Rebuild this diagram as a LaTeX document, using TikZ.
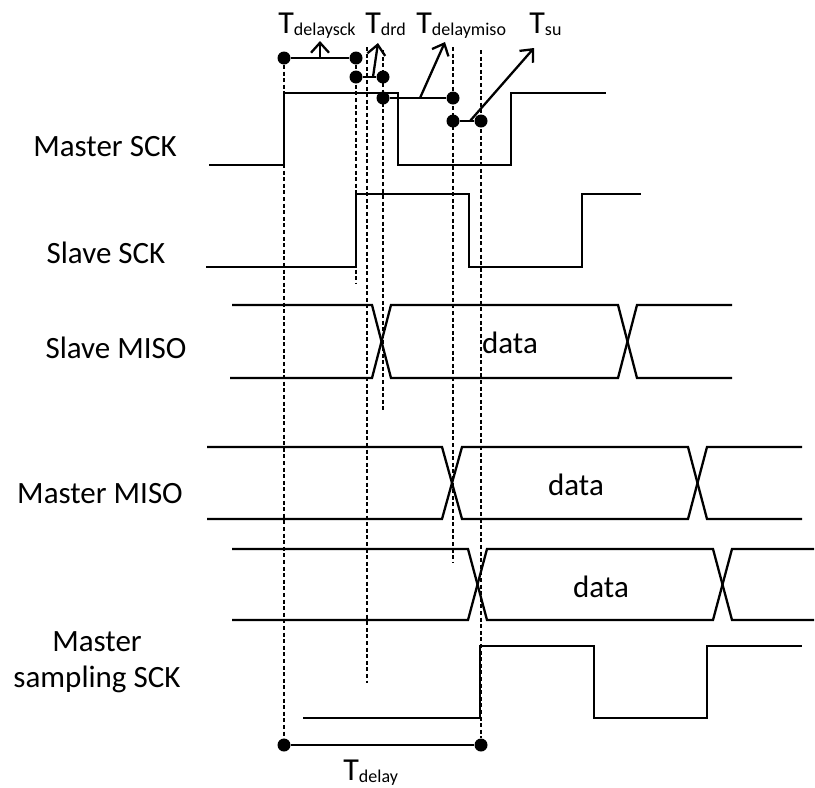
\documentclass[tikz,border=0pt]{standalone}
\usepackage{fontspec}
\setmainfont{Carlito}
\usepackage{tikz}
\usetikzlibrary{arrows.meta, calc}
\newcommand{\tsub}[1]{T\raisebox{-1pt}{\fontsize{9}{9}\selectfont #1}}

\begin{document}
\begin{tikzpicture}[
    x=0.5pt, y=-0.5pt,
    wave/.style={line width=1.15pt, line join=miter},
    guide/.style={line width=1pt, dash pattern=on 2pt off 1.3pt},
    span/.style={line width=1.15pt},
    pointer/.style={line width=1.15pt, -{Straight Barb[length=5pt, width=9pt, line width=1.15pt]}},
    dot/.style={circle, fill, inner sep=0pt, minimum size=6.5pt},
    signame/.style={font=\fontsize{15.5}{18}\selectfont, align=center, anchor=base},
    timename/.style={font=\fontsize{16}{18}\selectfont, anchor=base west, inner sep=0pt},
    datatext/.style={font=\fontsize{15.5}{18}\selectfont}
  ]
  \useasboundingbox (0,0) rectangle (815,788);

  % Signal names
  \node[signame] (mscklbl) at (105,156) {Master SCK};
  \node[signame] (sscklbl) at (106,263) {Slave SCK};
  \node[signame] (smisolbl) at (116,358) {Slave MISO};
  \node[signame] (mmisolbl) at (100,503) {Master MISO};
  \node[signame] (samplbl) at (97,687) {Master\\sampling SCK};

  % Measurement points
  \node[dot] (sckA) at (284,58) {};
  \node[dot] (sckB) at (356,58) {};
  \node[dot] (drdA) at (356,77) {};
  \node[dot] (drdB) at (383,77) {};
  \node[dot] (misoA) at (383,98) {};
  \node[dot] (misoB) at (453,98) {};
  \node[dot] (suA) at (453,121) {};
  \node[dot] (suB) at (481,121) {};
  \node[dot] (dlyA) at (284,745) {};
  \node[dot] (dlyB) at (481,745) {};

  % Timing names
  \node[timename] (tdelaysck) at (278,33) {\tsub{delaysck}};
  \node[timename] (tdrd) at (365,33) {\tsub{drd}};
  \node[timename] (tdelaymiso) at (416,33) {\tsub{delaymiso}};
  \node[timename] (tsu) at (529,33) {\tsub{su}};
  \node[timename] (tdelay) at (343,780) {\tsub{delay}};

  % Guide lines
  \draw[guide] (sckA) -- (dlyA);
  \draw[guide] (sckB) -- (356,283);
  \draw[guide] (367,47) -- (367,683);
  \draw[guide] (383,50) -- (383,410);
  \draw[guide] (453,47) -- (453,563);
  \draw[guide] (481,50) -- (dlyB);

  % Waveforms
  \draw[wave] (209,165) -- (284,165) -- (284,93) -- (398,93) -- (398,165) -- (511,165) -- (511,93) -- (606,93);
  \draw[wave] (206,267) -- (356,267) -- (356,194) -- (469,194) -- (469,267) -- (582,267) -- (582,194) -- (641,194);

  \draw[wave] (232,305) -- (372,305) -- (391,378) -- (618,378) -- (637,305) -- (732,305);
  \draw[wave] (230,378) -- (372,378) -- (391,305) -- (618,305) -- (637,378) -- (732,378);
  \node[datatext] (smisodata) at (510,343) {data};

  \draw[wave] (207,447) -- (442,447) -- (462,519) -- (688,519) -- (707,447) -- (802,447);
  \draw[wave] (207,519) -- (442,519) -- (462,447) -- (688,447) -- (707,519) -- (802,519);
  \node[datatext] (mmisodata) at (576,485) {data};

  \draw[wave] (232,549) -- (468,549) -- (487,620) -- (713,620) -- (732,549) -- (814,549);
  \draw[wave] (232,620) -- (468,620) -- (487,549) -- (713,549) -- (732,620) -- (814,620);
  \node[datatext] (sampdata) at (601,587) {data};

  \draw[wave] (303,718) -- (480,718) -- (480,646) -- (594,646) -- (594,718) -- (707,718) -- (707,646) -- (802,646);

  % Spans
  \draw[span] (sckA) -- (sckB);
  \draw[span] (drdA) -- (drdB);
  \draw[span] (misoA) -- (misoB);
  \draw[span] (suA) -- (suB);
  \draw[span] (dlyA) -- (dlyB);

  \draw[pointer] ($(sckA)!0.5!(sckB)$) -- ++(0,-17);
  \draw[pointer] (373,77) -- (378,43);
  \draw[pointer] (420,98) -- (445,42);
  \draw[pointer] (470,121) -- (534,48);

\end{tikzpicture}
\end{document}
